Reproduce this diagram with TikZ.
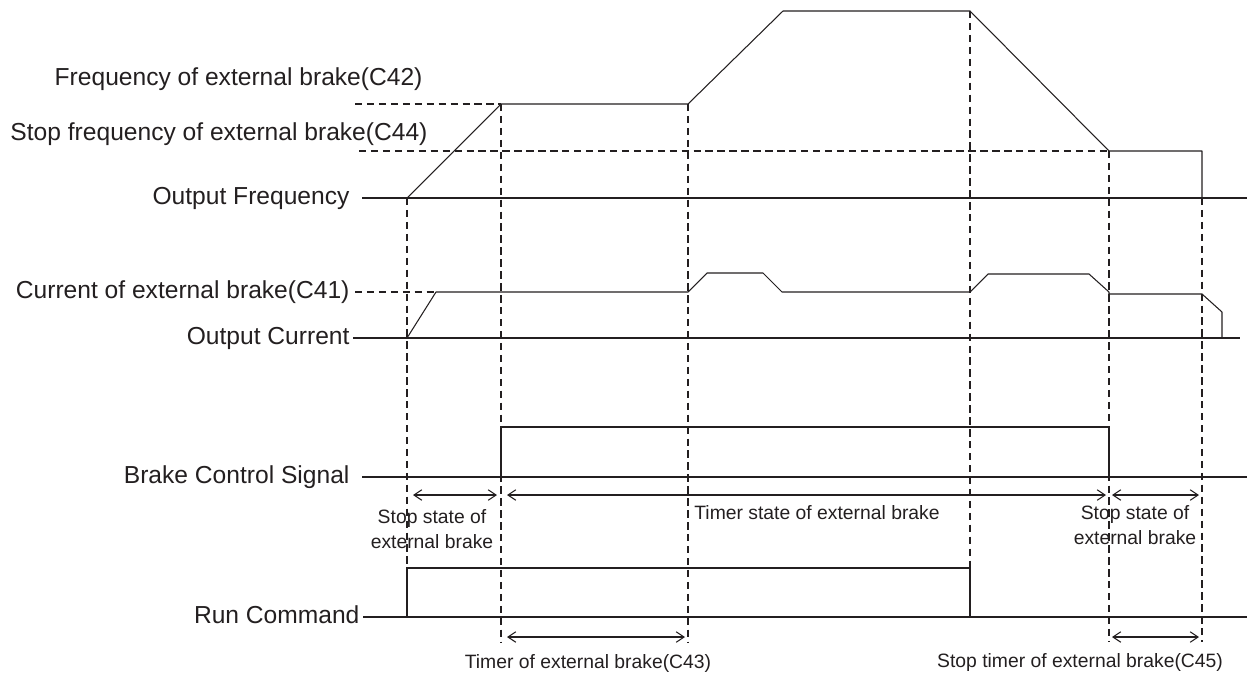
\documentclass[tikz,border=0pt]{standalone}
\usepackage{fontspec}
\setmainfont{Liberation Sans}
\usepackage{tikz}
\usetikzlibrary{arrows.meta}
\definecolor{linegray}{RGB}{35,31,32}

\tikzset{
    lbl/.style={anchor=east, inner sep=0pt, text height=0.93em, text depth=0.214em,
        font=\fontsize{14}{17}\selectfont},
    note/.style={align=center, inner sep=0pt, font=\fontsize{11}{14}\selectfont},
    dashline/.style={dash pattern=on 4.2pt off 2.6pt},
    interval/.style={{Straight Barb[length=4.5pt,width=6pt]}-{Straight Barb[length=4.5pt,width=6pt]}},
}

\begin{document}
\begin{tikzpicture}[x=0.02cm, y=-0.02cm, line width=0.6pt, draw=linegray, text=linegray]
    \useasboundingbox (0,0) rectangle (1247,677);

    % Etichette dei segnali
    \node[lbl] (fc42) at (423,79.5) {Frequency of external brake(C42)};
    \node[lbl] (fc44) at (428,134.5) {Stop frequency of external brake(C44)};
    \node[lbl] (of) at (350,198) {Output Frequency};
    \node[lbl] (cc41) at (350,292) {Current of external brake(C41)};
    \node[lbl] (oc) at (350,338) {Output Current};
    \node[lbl] (bcs) at (350,477) {Brake Control Signal};
    \node[lbl] (rc) at (360,617) {Run Command};

    % Assi
    \draw (of.east) ++(12,0) -- (1247,198);
    \draw (oc.east) ++(3,0) -- (1240,338);
    \draw (bcs.east) ++(12,0) -- (1247,477);
    \draw (rc.east) ++(3,0) -- (1247,617);

    % Livelli di riferimento
    \draw[dashline] (355,104) -- (501,104);
    \draw[dashline] (359,151) -- (1109,151);
    \draw[dashline] (cc41.east) ++(5,0) -- (436,292);

    % Linee verticali tratteggiate
    \draw[dashline] (407,198) -- (407,568);
    \draw[dashline] (501,104) -- (501,642);
    \draw[dashline] (688,104) -- (688,642);
    \draw[dashline] (970,11) -- (970,568);
    \draw[dashline] (1109,151) -- (1109,642);
    \draw[dashline] (1202,198) -- (1202,642);

    % Frequenza di uscita
    \draw[line join=round] (407,198) -- (501,104) -- (688,104) -- (783,11) -- (970,11)
        -- (1109,151) -- (1202,151) -- (1202,198);

    % Corrente di uscita
    \draw[line join=round] (407,338) -- (436,292) -- (688,292) -- (707,273) -- (763,273)
        -- (782,292) -- (970,292) -- (988,274) -- (1089,274) -- (1109,292) -- (1109,294)
        -- (1202,294) -- (1222,312) -- (1222,338);

    % Segnale freno
    \draw (501,477) -- (501,427) -- (1109,427) -- (1109,477);

    % Comando di marcia
    \draw (407,617) -- (407,568) -- (970,568) -- (970,617);

    % Intervalli
    \draw[interval] (413,495) -- (497,495);
    \draw[interval] (507,495) -- (1106,495);
    \draw[interval] (1112,495) -- (1199,495);
    \draw[interval] (507,637) -- (685,637);
    \draw[interval] (1112,637) -- (1199,637);

    \node[note] (ss1) at (432,529) {Stop state of\\external brake};
    \node[note] (ts) at (817,513) {Timer state of external brake};
    \node[note] (ss2) at (1135,525) {Stop state of\\external brake};
    \node[note] (t43) at (588,663) {Timer of external brake(C43)};
    \node[note] (t45) at (1080,662) {Stop timer of external brake(C45)};
\end{tikzpicture}
\end{document}
